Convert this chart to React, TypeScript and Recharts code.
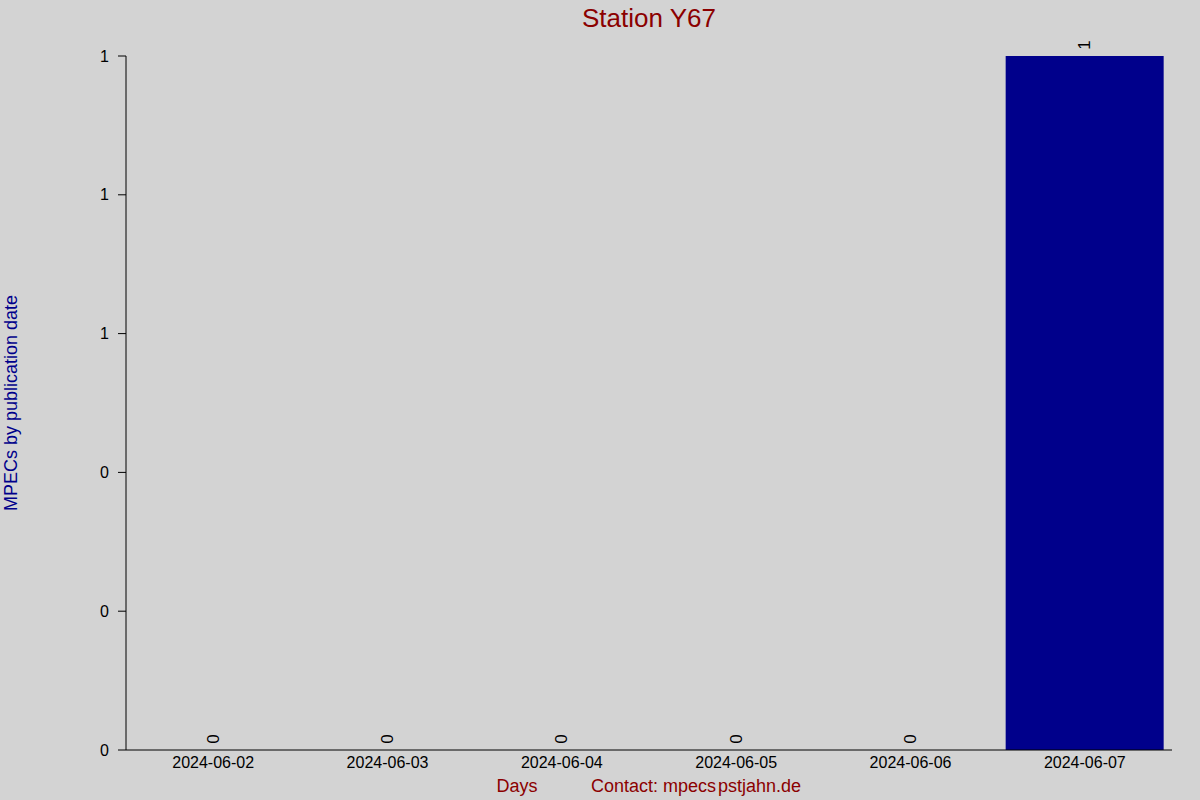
import React from 'react';
import { ComposedChart, Bar, Line, XAxis, YAxis, LabelList } from 'recharts';

const days = ['2024-06-02', '2024-06-03', '2024-06-04', '2024-06-05', '2024-06-06', '2024-06-07'];
const mpecs = [0, 0, 0, 0, 0, 1];
const yTicks = [0, 0.2, 0.4, 0.6, 0.8, 1];

const data = days.map((d, i) => ({ day: d, value: mpecs[i] }));

const FONT = '"Liberation Sans", Arial, sans-serif';

const RotLabel = (props: any) => {
  const { x, y, value } = props;
  const cx = x;
  const cy = y - 11;
  return (
    <text
      x={cx}
      y={cy}
      transform={`rotate(-90, ${cx}, ${cy})`}
      textAnchor="middle"
      dominantBaseline="central"
      fontSize={17}
      fontFamily={FONT}
      fill="#000"
    >
      {String(value)}
    </text>
  );
};

export default function App() {
  return (
    <div style={{ position: 'absolute', left: 0, top: 0, width: 1200, height: 800, background: '#d3d3d3', fontFamily: FONT }}>
      <ComposedChart
        width={1200}
        height={800}
        data={data}
        margin={{ top: 56, right: 28, left: 0, bottom: 0 }}
        barCategoryGap={8}
      >
        <text x={649} y={27} textAnchor="middle" fontSize={26} fill="#8b0000" fontFamily={FONT}>Station Y67</text>
        <text
          x={17}
          y={403}
          transform="rotate(-90, 17, 403)"
          textAnchor="middle"
          fontSize={18}
          fill="#00008b"
          fontFamily={FONT}
        >
          MPECs by publication date
        </text>
        <text x={517} y={792} textAnchor="middle" fontSize={18} fill="#8b0000" fontFamily={FONT}>Days</text>
        <text x={591} y={792} textAnchor="start" fontSize={18} fill="#8b0000" fontFamily={FONT}>Contact: mpecs</text>
        <text x={801} y={792} textAnchor="end" fontSize={18} fill="#8b0000" fontFamily={FONT}>pstjahn.de</text>
        <XAxis
          dataKey="day"
          height={50}
          tickLine={false}
          tickSize={0}
          tickMargin={7}
          axisLine={{ stroke: '#000' }}
          tick={{ fill: '#000', fontSize: 16, fontFamily: FONT }}
          interval={0}
        />
        <YAxis
          width={126}
          domain={[0, 1]}
          ticks={yTicks}
          tickFormatter={(v: number) => String(Math.round(v))}
          tickSize={8}
          tickMargin={9}
          axisLine={{ stroke: '#000' }}
          tickLine={{ stroke: '#000' }}
          tick={{ fill: '#000', fontSize: 16, fontFamily: FONT }}
          interval={0}
        />
        <Bar dataKey="value" fill="#00008b" isAnimationActive={false} />
        <Line
          dataKey="value"
          stroke="none"
          strokeWidth={0}
          dot={false}
          activeDot={false}
          isAnimationActive={false}
          legendType="none"
        >
          <LabelList dataKey="value" content={<RotLabel />} />
        </Line>
      </ComposedChart>
    </div>
  );
}
